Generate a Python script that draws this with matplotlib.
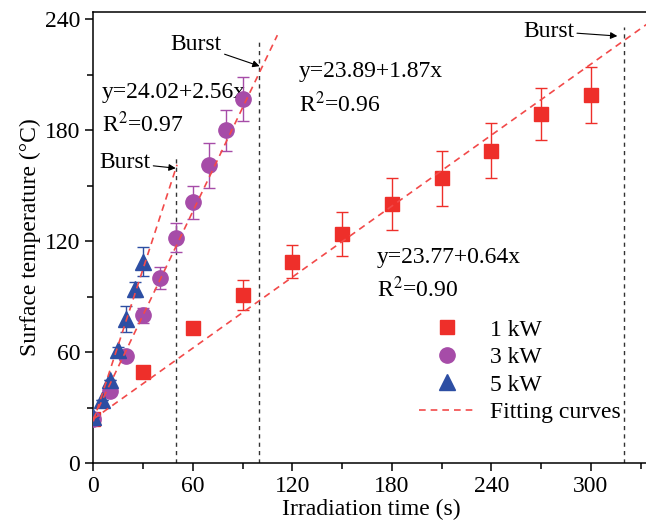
import matplotlib
matplotlib.use('Agg')
import matplotlib.pyplot as plt
from matplotlib.lines import Line2D
from matplotlib.ticker import MultipleLocator

# Surface temperature vs irradiation time for three laser powers

plt.rcParams['font.family'] = ['Liberation Serif', 'DejaVu Serif']
plt.rcParams['mathtext.fontset'] = 'stix'

red = '#ee2f2a'
purple = '#a64ca8'
blue = '#2d4ea3'
fit_color = '#f24a4a'
fs = 17

t_1kw = [0, 30, 60, 90, 120, 150, 180, 210, 240, 270, 300]
temp_1kw = [24, 49, 73, 91, 109, 124, 140, 154, 169, 189, 199]
err_1kw = [0, 0, 0, 8, 9, 12, 14, 15, 15, 14, 15]

t_3kw = [0, 10, 20, 30, 40, 50, 60, 70, 80, 90]
temp_3kw = [24, 39, 58, 80, 100, 122, 141, 161, 180, 197]
err_3kw = [0, 0, 2, 4, 6, 8, 9, 12, 11, 12]

t_5kw = [0, 5, 10, 15, 20, 25, 30]
temp_5kw = [25, 34, 45, 61, 78, 94, 109]
err_5kw = [0, 0, 0, 2, 7, 4, 8]

# fitted lines: (intercept, slope, x end)
fit_1kw = (23.77, 0.64, 336)
fit_3kw = (23.89, 1.87, 111)
fit_5kw = (22.5, 2.75, 50.5)

# burst times and top of the dashed marker lines
burst_t = [50, 100, 320]
burst_top = [165, 230, 236]

fig = plt.figure(figsize=(6.46, 5.31), dpi=100)
ax = fig.add_axes([0.1444, 0.128, 0.86, 0.8494])

ax.errorbar(t_1kw, temp_1kw, yerr=err_1kw, fmt='s', color=red, ms=10, elinewidth=1,
            capsize=4, capthick=1, zorder=3)
ax.errorbar(t_3kw, temp_3kw, yerr=err_3kw, fmt='o', color=purple, ms=11, elinewidth=1,
            capsize=4, capthick=1, zorder=4)
ax.errorbar(t_5kw, temp_5kw, yerr=err_5kw, fmt='^', color=blue, ms=11, elinewidth=1,
            capsize=4, capthick=1, zorder=5)

for b, k, xe in [fit_1kw, fit_3kw, fit_5kw]:
    ax.plot([0, xe], [b, b + k * xe], '--', color=fit_color, lw=1.2, dashes=(4, 3), zorder=6)

for bt, top in zip(burst_t, burst_top):
    ax.plot([bt, bt], [0, top], '--', color='#333333', lw=1.0, dashes=(3, 3), zorder=2)

arrow = dict(arrowstyle='-|>', color='black', lw=0.8, mutation_scale=10, shrinkA=0, shrinkB=0)
ax.annotate('Burst', xy=(49.7, 159.5), xytext=(34.5, 162.4), fontsize=fs,
            ha='right', va='center', arrowprops=arrow)
ax.annotate('Burst', xy=(100.3, 214.7), xytext=(77.5, 226.4), fontsize=fs,
            ha='right', va='center', arrowprops=arrow)
ax.annotate('Burst', xy=(316, 231), xytext=(290, 233.6), fontsize=fs,
            ha='right', va='center', arrowprops=arrow)

ax.text(5, 200.3, 'y=24.02+2.56x', fontsize=fs, va='center')
ax.text(5, 183, r'R$^2$=0.97', fontsize=fs, va='center')
ax.text(124, 212, 'y=23.89+1.87x', fontsize=fs, va='center')
ax.text(124, 194, r'R$^2$=0.96', fontsize=fs, va='center')
ax.text(171, 111, 'y=23.77+0.64x', fontsize=fs, va='center')
ax.text(171, 94, r'R$^2$=0.90', fontsize=fs, va='center')

ax.set_xlim(0, 335)
ax.set_ylim(0, 244)
ax.xaxis.set_major_locator(MultipleLocator(60))
ax.xaxis.set_minor_locator(MultipleLocator(30))
ax.yaxis.set_major_locator(MultipleLocator(60))
ax.yaxis.set_minor_locator(MultipleLocator(30))
ax.tick_params(which='major', direction='out', length=6, width=1.1, labelsize=fs)
ax.tick_params(which='minor', direction='out', length=4, width=1.1)
for s in ax.spines.values():
    s.set_linewidth(1.1)

ax.set_xlabel('Irradiation time (s)', fontsize=fs, labelpad=1)
ax.set_ylabel('Surface temperature (°C)', fontsize=fs, labelpad=3)

handles = [
    Line2D([], [], ls='none', marker='s', color=red, ms=10),
    Line2D([], [], ls='none', marker='o', color=purple, ms=11),
    Line2D([], [], ls='none', marker='^', color=blue, ms=11),
    Line2D([], [], ls='--', color=fit_color, lw=1.2, dashes=(4, 3)),
]
ax.legend(handles, ['1 kW', '3 kW', '5 kW', 'Fitting curves'],
          loc='center', bbox_to_anchor=(0.768, 0.204), frameon=False, fontsize=fs,
          handlelength=2.4, handletextpad=0.6, labelspacing=0.25)

fig.savefig('out.png', dpi=100)
